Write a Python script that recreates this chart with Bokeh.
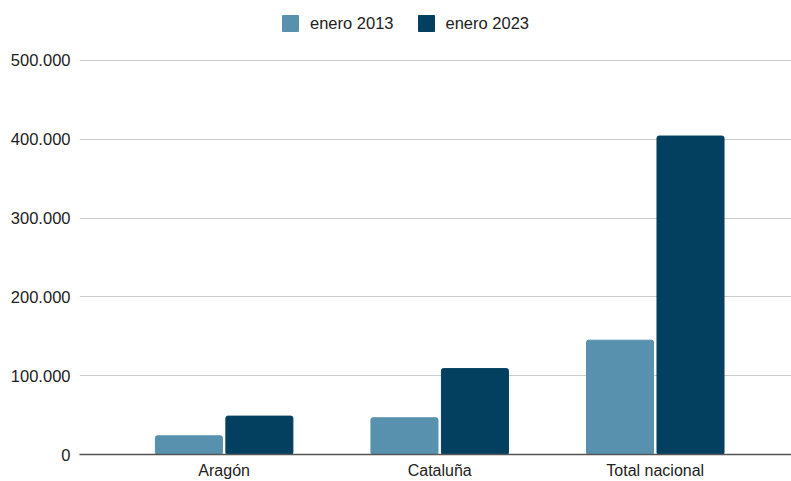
from bokeh.plotting import figure
from bokeh.models import (ColumnDataSource, Range1d, FixedTicker, CustomJSTickFormatter,
                          Legend, LegendItem)
from bokeh.transform import dodge
from bokeh.embed import file_html
from bokeh.resources import INLINE

categories = ["Aragón", "Cataluña", "Total nacional"]
series_names = ["enero 2013", "enero 2023"]
values_2013 = [23700, 46600, 145000]
values_2023 = [48700, 109000, 404000]
y_ticks = [0, 100000, 200000, 300000, 400000, 500000]

COL_2013 = "#5791ad"
COL_2023 = "#03405f"
FONT = "Liberation Sans"

# frame spans the full height above the x axis (455 px); 500.000 sits 60 px below the top
FRAME_H = 455
Y_TOP = 500000 * FRAME_H / (FRAME_H - 60)

src = ColumnDataSource(dict(
    x=list(range(len(categories))),
    v2013=values_2013,
    v2023=values_2023,
))

p = figure(width=791, height=481, output_backend="svg", toolbar_location=None,
           x_range=Range1d(-0.671, 2.632), y_range=Range1d(0, Y_TOP),
           min_border_left=79, min_border_right=0, min_border_top=0,
           min_border_bottom=26)
p.outline_line_color = None
p.background_fill_color = "white"
p.border_fill_color = "white"

bw = 0.311
r1 = p.vbar(x=dodge("x", -0.1635), top="v2013", width=bw, source=src,
            fill_color=COL_2013, line_color=COL_2013, border_radius=2)
r2 = p.vbar(x=dodge("x", 0.1635), top="v2023", width=bw, source=src,
            fill_color=COL_2023, line_color=COL_2023, border_radius=2)

# axes
p.xaxis.ticker = FixedTicker(ticks=list(range(len(categories))))
p.xaxis.major_label_overrides = {i: c for i, c in enumerate(categories)}
p.xaxis.major_tick_line_color = None
p.xaxis.major_tick_out = 0
p.xaxis.major_tick_in = 0
p.xaxis.minor_tick_line_color = None
p.xaxis.minor_tick_out = 0
p.xaxis.axis_line_color = "#555555"
p.xaxis.axis_line_width = 1.3
p.xaxis.major_label_text_font = FONT
p.xaxis.major_label_text_font_size = "16px"
p.xaxis.major_label_text_color = "#222222"
p.xaxis.major_label_standoff = 7

p.yaxis.ticker = FixedTicker(ticks=y_ticks)
p.yaxis.formatter = CustomJSTickFormatter(code="""
    return tick.toFixed(0).replace(/\\B(?=(\\d{3})+(?!\\d))/g, '.');
""")
p.yaxis.axis_line_color = None
p.yaxis.major_tick_line_color = None
p.yaxis.major_tick_out = 0
p.yaxis.major_tick_in = 0
p.yaxis.minor_tick_line_color = None
p.yaxis.minor_tick_out = 0
p.yaxis.major_label_text_font = FONT
p.yaxis.major_label_text_font_size = "16.5px"
p.yaxis.major_label_text_color = "#222222"
p.yaxis.major_label_standoff = 9

p.xgrid.grid_line_color = None
p.ygrid.grid_line_color = "#cccccc"
p.ygrid.grid_line_width = 1

legend = Legend(items=[LegendItem(label=series_names[0], renderers=[r1]),
                       LegendItem(label=series_names[1], renderers=[r2])],
                orientation="horizontal", location=(201, FRAME_H - 34),
                glyph_width=20, glyph_height=20, label_standoff=10, spacing=22,
                padding=0, margin=0, border_line_color=None,
                background_fill_alpha=0, label_text_font=FONT,
                label_text_font_size="16.5px", label_text_color="#222222",
                label_height=20)
p.add_layout(legend, "center")

open("out.html", "w").write(file_html(p, INLINE))
